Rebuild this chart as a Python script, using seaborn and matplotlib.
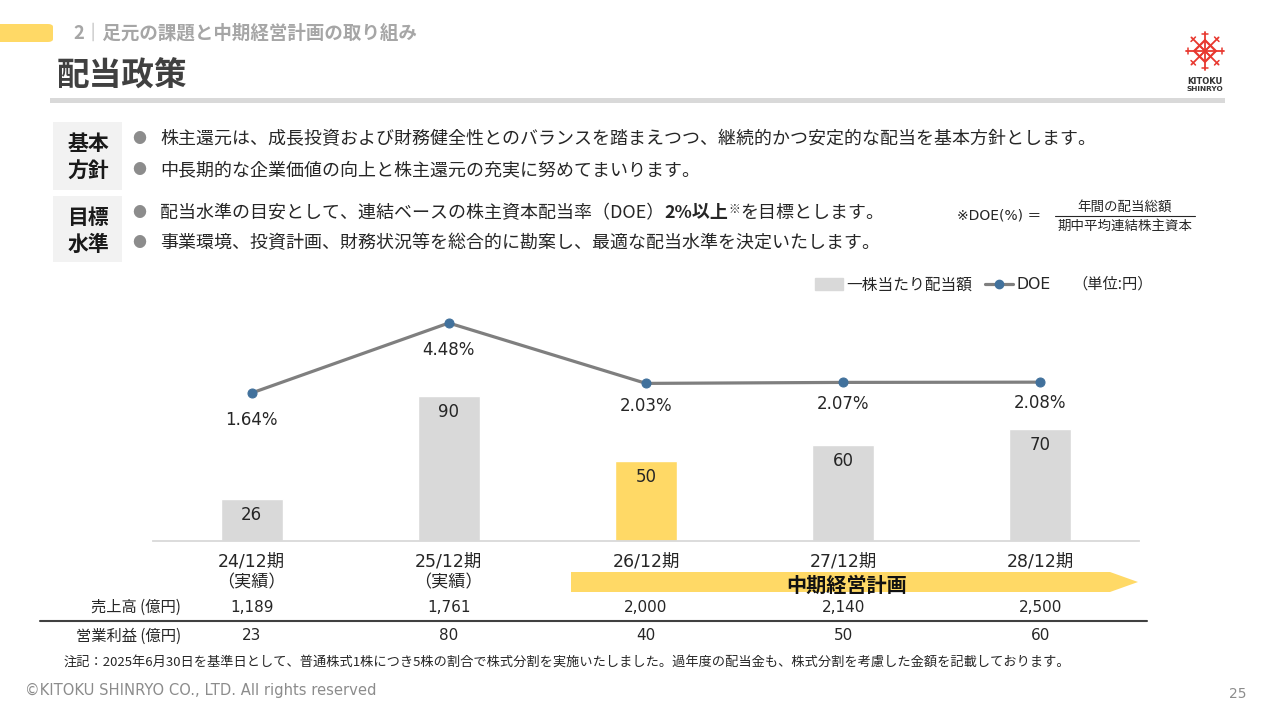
import matplotlib
matplotlib.use("Agg")
import matplotlib.pyplot as plt
import matplotlib.patches as mpatches
from matplotlib.lines import Line2D
import numpy as np
import pandas as pd
import seaborn as sns

# ---------------- data ----------------
periods = ["24/12期", "25/12期", "26/12期", "27/12期", "28/12期"]
period_notes = ["（実績）", "（実績）", "", "", ""]
dividends = [26, 90, 50, 60, 70]
doe = [1.64, 4.48, 2.03, 2.07, 2.08]
doe_labels = ["1.64%", "4.48%", "2.03%", "2.07%", "2.08%"]
sales = ["1,189", "1,761", "2,000", "2,140", "2,500"]
op_profit = ["23", "80", "40", "50", "60"]
bar_colors = ["#d9d9d9", "#d9d9d9", "#ffd966", "#d9d9d9", "#d9d9d9"]

sns.set_theme(style="white")
plt.rcParams['font.family'] = ['Noto Sans CJK JP', 'DejaVu Sans']
LAT = ['DejaVu Sans', 'Noto Sans CJK JP']

W, H = 1280, 720
fig = plt.figure(figsize=(12.8, 7.2), dpi=100)
fig.patch.set_facecolor("white")


def fx(x):
    return x / W


def fy(y):
    return 1 - y / H


def ftext(x, y, s, **kw):
    kw.setdefault("va", "center")
    return fig.text(fx(x), fy(y), s, **kw)


DARK = "#262626"

# ---------------- header ----------------
fig.patches.append(mpatches.FancyBboxPatch((fx(-10), fy(42)), fx(63), 18 / H,
                                           boxstyle="round,pad=0,rounding_size=0.004",
                                           transform=fig.transFigure, color="#ffd966", lw=0))
ftext(73, 33, "2｜足元の課題と中期経営計画の取り組み", fontsize=13.3, color="#a6a6a6",
      fontweight="bold")
ftext(57, 76, "配当政策", fontsize=23.5, color="#404040", fontweight="bold")
fig.patches.append(mpatches.Rectangle((fx(50), fy(103)), fx(1175), 5 / H,
                                      transform=fig.transFigure, color="#d9d9d9", lw=0))

# logo
lax = fig.add_axes([fx(1184), fy(72), 42 / W, 42 / H])
lax.set_xlim(-1.2, 1.2)
lax.set_ylim(-1.2, 1.2)
lax.axis("off")
red = "#e8382f"
r = 0.62
lax.plot([r, 0, -r, 0, r], [0, r, 0, -r, 0], color=red, lw=1.6)
lax.plot([-r / 2, r / 2], [r / 2, -r / 2], color=red, lw=1.2)
lax.plot([-r / 2, r / 2], [-r / 2, r / 2], color=red, lw=1.2)
for ang in np.arange(8) * np.pi / 4:
    c, s = np.cos(ang), np.sin(ang)
    lax.plot([0.0, 1.1 * c], [0.0, 1.1 * s], color=red, lw=1.3)
    px, py = -s, c
    lax.plot([0.95 * c - 0.18 * px, 0.95 * c + 0.18 * px],
             [0.95 * s - 0.18 * py, 0.95 * s + 0.18 * py], color=red, lw=1.1)
ftext(1205, 81, "KITOKU", fontsize=6.0, ha="center", color="#333333", fontweight="bold",
      family=["DejaVu Sans"])
ftext(1205, 89, "SHINRYO", fontsize=5.3, ha="center", color="#333333", fontweight="bold",
      family=["DejaVu Sans"])

# ---------------- policy boxes ----------------
for (y0, y1, l1, l2) in [(122, 190, "基本", "方針"), (196, 262, "目標", "水準")]:
    fig.patches.append(mpatches.Rectangle((fx(53), fy(y1)), fx(69), (y1 - y0) / H,
                                          transform=fig.transFigure, color="#f2f2f2", lw=0))
    ftext(88, y0 + 21, l1, fontsize=15, ha="center", fontweight="bold", color="#1a1a1a")
    ftext(88, y0 + 48, l2, fontsize=15, ha="center", fontweight="bold", color="#1a1a1a")

bullet_y = [139, 170, 213, 243]
for by in bullet_y:
    ftext(139, by, "●", fontsize=10, ha="center", color="#8c8c8c")

BFS = 12.95
ftext(160, 139, "株主還元は、成長投資および財務健全性とのバランスを踏まえつつ、継続的かつ安定的な配当を基本方針とします。",
      fontsize=BFS, color=DARK)
ftext(160, 170, "中長期的な企業価値の向上と株主還元の充実に努めてまいります。", fontsize=BFS, color=DARK)
ftext(160, 243, "事業環境、投資計画、財務状況等を総合的に勘案し、最適な配当水準を決定いたします。",
      fontsize=BFS, color=DARK)

# mixed-style line
renderer = fig.canvas.get_renderer()
segments = [("配当水準の目安として、連結ベースの株主資本配当率（DOE）", dict(fontsize=BFS), 0),
            ("2%以上", dict(fontsize=BFS, fontweight="bold"), 0),
            ("※", dict(fontsize=8.5), -4),
            ("を目標とします。", dict(fontsize=BFS), 0)]
xcur = 160
for txt, kw, dy in segments:
    t = ftext(xcur, 213 + dy, txt, color=DARK, **kw)
    bb = t.get_window_extent(renderer=renderer)
    xcur += bb.width

# DOE formula
ftext(957, 215, "※DOE(%) ＝", fontsize=10, color=DARK, family=LAT)
ftext(1125, 207, "年間の配当総額", fontsize=9.7, ha="center", color=DARK)
ftext(1125, 226, "期中平均連結株主資本", fontsize=9.7, ha="center", color=DARK)
fig.lines.append(Line2D([fx(1055), fx(1195)], [fy(216.5), fy(216.5)], transform=fig.transFigure,
                        color=DARK, lw=0.8))

# ---------------- chart ----------------
ax = fig.add_axes([fx(153), fy(541), 986 / W, 241 / H])
df = pd.DataFrame({"period": periods, "dividend": dividends})
sns.barplot(data=df, x="period", y="dividend", hue="period", palette=bar_colors,
            width=0.315, saturation=1, ax=ax, legend=False)
ax.set_ylim(0, 150)
ax.set_xlim(-0.5, len(periods) - 0.5)
ax.set_xticks([])
ax.set_yticks([])
ax.set_xlabel("")
ax.set_ylabel("")
ax.set_facecolor("none")
for s in ["top", "left", "right"]:
    ax.spines[s].set_visible(False)
ax.spines["bottom"].set_color("#d9d9d9")
ax.spines["bottom"].set_linewidth(1.3)
for i, v in enumerate(dividends):
    ax.text(i, v - 10, str(v), ha="center", va="center", fontsize=12, color=DARK, family=LAT)

ax2 = ax.twinx()
idx = np.arange(len(doe))
sns.lineplot(x=idx, y=doe, ax=ax2, color="#7f7f7f", lw=2.3, marker="o", markersize=6.5,
             markerfacecolor="#41719c", markeredgecolor="#41719c")
ax2.set_ylim(-4.364, 5.413)
ax2.set_yticks([])
ax2.set_ylabel("")
for s in ["top", "left", "right", "bottom"]:
    ax2.spines[s].set_visible(False)
label_drop_px = [27, 27, 23, 22, 21]
for i, (v, lab) in enumerate(zip(doe, doe_labels)):
    ax2.annotate(lab, (i, v), xytext=(0, -label_drop_px[i] * 0.72), textcoords="offset points",
                 ha="center", va="center", fontsize=12, color=DARK, family=LAT)

# category labels
xt = ax.get_xaxis_transform()


def axy(ypix):
    return (541 - ypix) / 241


for i, (p, n) in enumerate(zip(periods, period_notes)):
    ax.text(i, axy(561), p, transform=xt, ha="center", va="center", fontsize=12.5, color=DARK,
            clip_on=False, family=LAT)
    if n:
        ax.text(i, axy(582), n, transform=xt, ha="center", va="center", fontsize=12.3,
                color=DARK, clip_on=False)

# mid-term plan arrow
arrow = mpatches.Polygon([(fx(571), fy(572)), (fx(1110), fy(572)), (fx(1138), fy(582)),
                          (fx(1110), fy(592)), (fx(571), fy(592))],
                         closed=True, transform=fig.transFigure, color="#ffd966", lw=0)
fig.patches.append(arrow)
ftext(847, 585, "中期経営計画", fontsize=14.5, ha="center", fontweight="bold", color="#111111")

# table
ftext(181, 607, "売上高 (億円)", fontsize=11, ha="right", color=DARK)
ftext(181, 636, "営業利益 (億円)", fontsize=11, ha="right", color=DARK)
for i, (s_, o_) in enumerate(zip(sales, op_profit)):
    ax.text(i, axy(607), s_, transform=xt, ha="center", va="center", fontsize=11, color=DARK,
            clip_on=False, family=LAT)
    ax.text(i, axy(636), o_, transform=xt, ha="center", va="center", fontsize=11, color=DARK,
            clip_on=False, family=LAT)
fig.lines.append(Line2D([fx(40), fx(1147)], [fy(621), fy(621)], transform=fig.transFigure,
                        color="#404040", lw=1.5))

ftext(64, 662, "注記：2025年6月30日を基準日として、普通株式1株につき5株の割合で株式分割を実施いたしました。過年度の配当金も、株式分割を考慮した金額を記載しております。",
      fontsize=9.5, color=DARK)

# legend
handles = [mpatches.Patch(color="#d9d9d9", label="一株当たり配当額"),
           Line2D([], [], color="#7f7f7f", lw=2.3, marker="o", markersize=6,
                  markerfacecolor="#41719c", markeredgecolor="#41719c", label="DOE")]
fig.legend(handles=handles, loc="center left", bbox_to_anchor=(fx(815), fy(285)), ncol=2,
           frameon=False, prop={"family": LAT, "size": 11.3}, handlelength=1.8,
           handleheight=0.8, handletextpad=0.2, columnspacing=0.8, borderpad=0,
           borderaxespad=0, labelcolor=DARK)
ftext(1072, 284, "（単位:円）", fontsize=11, color=DARK)

# footer
ftext(25, 690, "©KITOKU SHINRYO CO., LTD. All rights reserved", fontsize=10.6, color="#8c8c8c",
      family=LAT)
ftext(1247, 694, "25", fontsize=10, ha="right", color="#8c8c8c", family=LAT)

fig.savefig("out.png", dpi=100, facecolor="white")
